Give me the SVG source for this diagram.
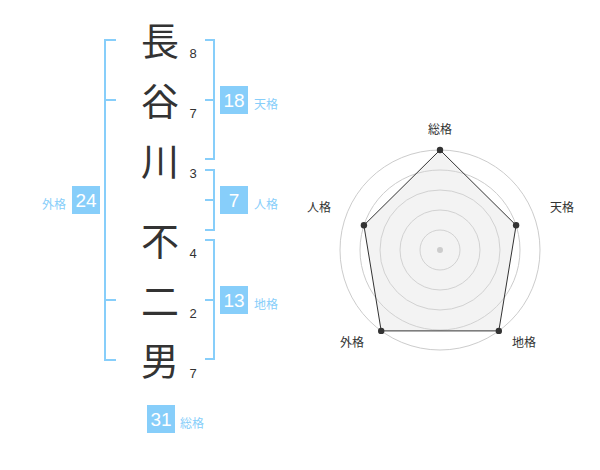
<svg xmlns="http://www.w3.org/2000/svg" width="600" height="470" viewBox="0 0 600 470">
<style>
.ch{font-family:"Noto Sans CJK JP","Noto Sans CJK SC",sans-serif;font-size:38px;fill:#333;text-anchor:middle}
.n{font-family:"Liberation Sans",Arial,sans-serif;font-size:13px;fill:#333;text-anchor:middle}
.br{fill:none;stroke:#87CEFA;stroke-width:2}
.box{fill:#87CEFA}
.bt{font-family:"Liberation Sans",Arial,sans-serif;font-size:19px;fill:#fff;text-anchor:middle}
.lb{font-family:"Noto Sans CJK JP",sans-serif;font-size:12px;fill:#87CEFA}
.ring{fill:none;stroke:#ccc;stroke-width:1}
.rl{font-family:"Noto Sans CJK JP",sans-serif;font-size:12px;fill:#333;text-anchor:middle}
</style>
<rect width="600" height="470" fill="#fff"/>
<g id="name">
<text class="ch" x="160" y="55">長</text>
<text class="ch" x="160" y="115">谷</text>
<text class="ch" x="160" y="175">川</text>
<text class="ch" x="160" y="255">不</text>
<text class="ch" x="160" y="315">二</text>
<text class="ch" x="160" y="375">男</text>
<text class="n" x="193" y="58">8</text>
<text class="n" x="193" y="118">7</text>
<text class="n" x="193" y="178">3</text>
<text class="n" x="193" y="258">4</text>
<text class="n" x="193" y="318">2</text>
<text class="n" x="193" y="378">7</text>
</g>
<g id="connectors">
<path class="br" d="M116,40 H105 V360 H116 M105,100 H116 M105,300 H116"/>
<path class="br" d="M205,40 H214 V159 H205 M205,100 H214"/>
<path class="br" d="M205,170 H214 V230 H205 M205,200 H214"/>
<path class="br" d="M205,240 H214 V359 H205 M205,300 H214"/>
</g>
<g id="tenkaku">
<rect class="box" x="220" y="86" width="28" height="28"/>
<text class="bt" x="234" y="107">18</text>
<text class="lb" x="254" y="109">天格</text>
</g>
<g id="jinkaku">
<rect class="box" x="220" y="186" width="28" height="28"/>
<text class="bt" x="234" y="207">7</text>
<text class="lb" x="254" y="209">人格</text>
</g>
<g id="chikaku">
<rect class="box" x="220" y="286" width="28" height="28"/>
<text class="bt" x="234" y="307">13</text>
<text class="lb" x="254" y="309">地格</text>
</g>
<g id="gaikaku">
<rect class="box" x="72" y="186" width="28" height="28"/>
<text class="bt" x="86" y="207">24</text>
<text class="lb" x="66" y="209" text-anchor="end">外格</text>
</g>
<g id="soukaku">
<rect class="box" x="147" y="405" width="28" height="28"/>
<text class="bt" x="161" y="426">31</text>
<text class="lb" x="180" y="428">総格</text>
</g>
<g id="radar">
<circle class="ring" cx="440" cy="250" r="20"/>
<circle class="ring" cx="440" cy="250" r="40"/>
<circle class="ring" cx="440" cy="250" r="60"/>
<circle class="ring" cx="440" cy="250" r="80"/>
<circle class="ring" cx="440" cy="250" r="100"/>
<polygon points="440,150 516.1,225.3 498.8,330.9 381.2,330.9 363.9,225.3" fill="rgba(220,220,220,0.35)" stroke="#333" stroke-width="1"/>
<circle cx="440" cy="250" r="3" fill="#ccc"/>
<circle cx="440" cy="150" r="3.2" fill="#333"/>
<circle cx="516.1" cy="225.3" r="3.2" fill="#333"/>
<circle cx="498.8" cy="330.9" r="3.2" fill="#333"/>
<circle cx="381.2" cy="330.9" r="3.2" fill="#333"/>
<circle cx="363.9" cy="225.3" r="3.2" fill="#333"/>
<text class="rl" x="440" y="134">総格</text>
<text class="rl" x="562" y="212">天格</text>
<text class="rl" x="319" y="212">人格</text>
<text class="rl" x="352" y="347">外格</text>
<text class="rl" x="524" y="347">地格</text>
</g>
</svg>
